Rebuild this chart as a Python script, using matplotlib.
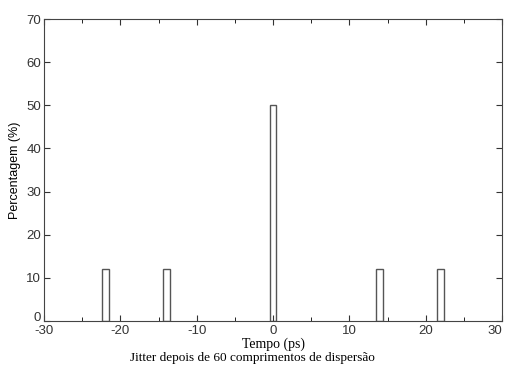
import matplotlib
matplotlib.use("Agg")
import matplotlib.pyplot as plt
from matplotlib.ticker import MultipleLocator

plt.rcParams['font.family'] = ['Liberation Sans', 'DejaVu Sans']
plt.rcParams['font.size'] = 9.5
plt.rcParams['axes.unicode_minus'] = False

# dados
tempo = [-22, -14, 0, 14, 22]
percentagem = [12, 12, 50, 12, 12]
xticks = [-30, -20, -10, 0, 10, 20, 30]
yticks = [0, 10, 20, 30, 40, 50, 60, 70]

fig = plt.figure(figsize=(5.05, 3.7), dpi=100)
ax = fig.add_axes([44/505, 1 - 321/370, 458/505, 302/370])

ax.bar(tempo, percentagem, width=0.9, color="white", edgecolor="#555555", linewidth=1)

ax.set_xlim(-30, 30)
ax.set_ylim(0, 70)
ax.set_xticks(xticks)
ax.set_yticks(yticks)
ax.xaxis.set_minor_locator(MultipleLocator(5))
ax.tick_params(direction="in", top=True, right=True, length=4, pad=2, colors="#333333")
ax.tick_params(axis="x", pad=3)
ax.tick_params(which="minor", direction="in", top=True, right=False, length=3)
for s in ax.spines.values():
    s.set_color("#444444")
    s.set_linewidth(0.8)

ax.xaxis.get_major_ticks()[-1].label1.set_horizontalalignment("right")
ax.yaxis.get_major_ticks()[0].label1.set_verticalalignment("baseline")

ax.set_xlabel("Tempo (ps)", labelpad=0, family=['Liberation Serif'], fontsize=10)
ax.set_ylabel("Percentagem (%)", labelpad=4, fontsize=9)
fig.text(0.5, 0.025, "Jitter depois de 60 comprimentos de dispersão", ha="center",
         fontsize=9.5, family=['Liberation Serif'])

fig.savefig("out.png", dpi=100)
